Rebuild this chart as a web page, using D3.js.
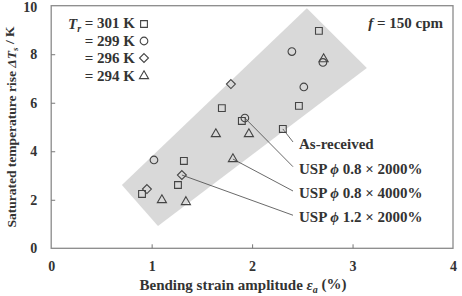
<!DOCTYPE html>
<html><head><meta charset="utf-8">
<script src="https://cdn.jsdelivr.net/npm/d3@7"></script>
<style>body{margin:0;background:#fff}svg{display:block}</style>
</head><body><div id="c"></div>
<script>
const xTicks = [0, 1, 2, 3, 4];
const yTicks = [0, 2, 4, 6, 8, 10];
const squares301 = [[2.665,8.96],[1.699,5.78],[1.898,5.25],[2.466,5.87],[2.306,4.92],[1.321,3.60],[1.262,2.61],[0.904,2.24]];
const circles299 = [[2.396,8.11],[1.928,5.37],[2.515,6.65],[1.023,3.64],[2.705,7.66]];
const diamonds296 = [[1.789,6.77],[1.301,3.02],[0.953,2.44]];
const triangles294 = [[1.639,4.71],[1.968,4.71],[1.809,3.68],[1.102,1.99],[1.341,1.91],[2.712,7.80]];
const bandCorners = [[0.704,2.61],[2.545,9.90],[3.142,7.43],[1.063,0.92]];
const legendLabels = ["= 301 K","= 299 K","= 296 K","= 294 K"];
const annotations = [
  {text:"As-received", from:[2.306,4.92], labelY:4.3},
  {text:"0.8 \u00d7 2000%", from:[1.928,5.37], labelY:3.28},
  {text:"0.8 \u00d7 4000%", from:[1.809,3.68], labelY:2.28},
  {text:"1.2 \u00d7 2000%", from:[1.301,3.02], labelY:1.28}
];

const W=462,H=296;
const m={l:51.2,r:9,t:5.7,b:47.7};
const svg=d3.select("#c").append("svg").attr("width",W).attr("height",H);
const x=d3.scaleLinear().domain([0,4]).range([m.l,W-m.r]);
const y=d3.scaleLinear().domain([0,10]).range([H-m.b,m.t]);
const font="'Liberation Serif','Times New Roman',serif";
const col="#333";

svg.append("path").datum(bandCorners)
  .attr("d",d3.line().x(d=>x(d[0])).y(d=>y(d[1])).curve(d3.curveLinearClosed))
  .attr("fill","#d9d9d9");

svg.append("rect").attr("x",x(0)).attr("y",y(10)).attr("width",x(4)-x(0)).attr("height",y(0)-y(10))
  .attr("fill","none").attr("stroke","#8a8a8a").attr("stroke-width",1.3);

const gx=svg.append("g").attr("transform",`translate(0,${y(0)})`)
  .call(d3.axisBottom(x).tickValues(xTicks).tickSize(-4).tickPadding(13).tickFormat(d3.format("d")));
const gy=svg.append("g").attr("transform",`translate(${x(0)},0)`)
  .call(d3.axisLeft(y).tickValues(yTicks).tickSize(-4).tickPadding(14).tickFormat(d3.format("d")));
[gx,gy].forEach(g=>{
  g.select(".domain").remove();
  g.selectAll(".tick line").attr("stroke","#777").attr("stroke-width",1);
  g.selectAll("text").attr("font-family",font).attr("font-weight","bold").attr("font-size",14).attr("fill",col);
});
gx.selectAll(".tick").filter(d=>d===0||d===4).select("line").remove();
gy.selectAll(".tick").filter(d=>d===0||d===10).select("line").remove();
gy.selectAll(".tick").filter(d=>d===10).select("text").attr("dy","0.42em");

annotations.forEach((a,i)=>{
  svg.append("line").attr("x1",x(a.from[0])).attr("y1",y(a.from[1]))
    .attr("x2",293).attr("y2",y(a.labelY)-2)
    .attr("stroke","#444").attr("stroke-width",0.8);
  const t=svg.append("text").attr("x",299).attr("y",y(a.labelY)).attr("dy","0.35em")
    .attr("font-family",font).attr("font-weight","bold").attr("font-size",15).attr("fill",col);
  if(i===0) t.text(a.text);
  else {
    t.append("tspan").text("USP ");
    t.append("tspan").attr("font-style","italic").text("\u03d5");
    t.append("tspan").text(" "+a.text);
  }
});

const diamondSym={draw(ctx,size){const r=Math.sqrt(size/2);ctx.moveTo(0,-r);ctx.lineTo(r,0);ctx.lineTo(0,r);ctx.lineTo(-r,0);ctx.closePath();}};
const series=[
  {data:squares301,type:d3.symbolSquare,size:46},
  {data:circles299,type:d3.symbolCircle,size:46},
  {data:diamonds296,type:diamondSym,size:40},
  {data:triangles294,type:d3.symbolTriangle,size:36}
];
series.forEach(s=>{
  svg.append("g").selectAll("path").data(s.data).join("path")
    .attr("transform",d=>`translate(${x(d[0])},${y(d[1])})`)
    .attr("d",d3.symbol().type(s.type).size(s.size))
    .attr("fill","none").attr("stroke","#444").attr("stroke-width",1.1);
});

const lg=svg.append("g");
const rowY=[24,41,58,76];
legendLabels.forEach((t,i)=>{
  const tx=lg.append("text").attr("x",135).attr("y",rowY[i]).attr("dy","0.35em").attr("text-anchor","end")
    .attr("font-family",font).attr("font-weight","bold").attr("font-size",15).attr("fill",col);
  if(i===0){
    tx.append("tspan").attr("font-style","italic").text("T");
    tx.append("tspan").attr("font-style","italic").attr("font-size",10).attr("dy","0.3em").text("r");
    tx.append("tspan").attr("dy","-0.3em").text(" "+t);
  } else tx.text(t);
  lg.append("path").attr("transform",`translate(144,${rowY[i]})`)
    .attr("d",d3.symbol().type(series[i].type).size(series[i].size))
    .attr("fill","none").attr("stroke","#444").attr("stroke-width",1.1);
});

const ft=svg.append("text").attr("x",443).attr("y",23).attr("dy","0.35em").attr("text-anchor","end")
  .attr("font-family",font).attr("font-weight","bold").attr("font-size",15).attr("fill",col);
ft.append("tspan").attr("font-style","italic").text("f");
ft.append("tspan").text(" = 150 cpm");

const xt=svg.append("text").attr("x",243).attr("y",285).attr("dy","0.35em").attr("text-anchor","middle")
  .attr("font-family",font).attr("font-weight","bold").attr("font-size",15).attr("fill",col);
xt.append("tspan").text("Bending strain amplitude ");
xt.append("tspan").attr("font-style","italic").text("\u03b5");
xt.append("tspan").attr("font-style","italic").attr("font-size",10).attr("dy","0.3em").text("a");
xt.append("tspan").attr("dy","-0.3em").text(" (%)");

const yt=svg.append("text").attr("transform",`translate(11,127) rotate(-90)`).attr("dy","0.35em").attr("text-anchor","middle")
  .attr("font-family",font).attr("font-weight","bold").attr("font-size",13.5).attr("fill",col);
yt.append("tspan").text("Saturated temperature rise ");
yt.append("tspan").attr("font-style","italic").text("\u0394T");
yt.append("tspan").attr("font-style","italic").attr("font-size",9).attr("dy","0.3em").text("s");
yt.append("tspan").attr("dy","-0.3em").text(" / K");
</script></body></html>
